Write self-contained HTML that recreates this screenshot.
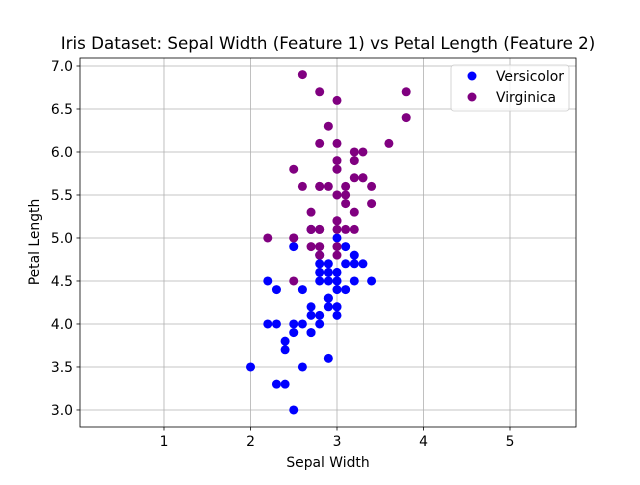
<!DOCTYPE html>
<html><head><meta charset="utf-8"><style>
body{margin:0;background:#fff;font-family:"Liberation Sans","DejaVu Sans",sans-serif;}
svg text{font-family:"DejaVu Sans","Liberation Sans",sans-serif;}
</style></head><body>
<svg id="chart" width="640" height="480" xmlns="http://www.w3.org/2000/svg"></svg>
<script>
const versicolorX=[3.2,3.2,3.1,2.3,2.8,2.8,3.3,2.4,2.9,2.7,2.0,3.0,2.2,2.9,2.9,3.1,3.0,2.7,2.2,2.5,3.2,2.8,2.5,2.8,2.9,3.0,2.8,3.0,2.9,2.6,2.4,2.4,2.7,2.7,3.0,3.4,3.1,2.3,3.0,2.5,2.6,3.0,2.6,2.3,2.7,3.0,2.9,2.9,2.5,2.8];
const versicolorY=[4.7,4.5,4.9,4.0,4.6,4.5,4.7,3.3,4.6,3.9,3.5,4.2,4.0,4.7,3.6,4.4,4.5,4.1,4.5,3.9,4.8,4.0,4.9,4.7,4.3,4.4,4.8,5.0,4.5,3.5,3.8,3.7,3.9,5.1,4.5,4.5,4.7,4.4,4.1,4.0,4.4,4.6,4.0,3.3,4.2,4.2,4.2,4.3,3.0,4.1];
const virginicaX=[3.3,2.7,3.0,2.9,3.0,3.0,2.5,2.9,2.5,3.6,3.2,2.7,3.0,2.5,2.8,3.2,3.0,3.8,2.6,2.2,3.2,2.8,2.8,2.7,3.3,3.2,2.8,3.0,2.8,3.0,2.8,3.8,2.8,2.8,2.6,3.0,3.4,3.1,3.0,3.1,3.1,3.1,2.7,3.2,3.3,3.0,2.5,3.0,3.4,3.0];
const virginicaY=[6.0,5.1,5.9,5.6,5.8,6.6,4.5,6.3,5.8,6.1,5.1,5.3,5.5,5.0,5.1,5.3,5.5,6.7,6.9,5.0,5.7,4.9,6.7,4.9,5.7,6.0,4.8,4.9,5.6,5.8,6.1,6.4,5.6,5.1,5.6,6.1,5.6,5.5,4.8,5.4,5.6,5.1,5.1,5.9,5.7,5.2,5.0,5.2,5.4,5.1];
const xTicks=[1,2,3,4,5];
const yTicks=[3.0,3.5,4.0,4.5,5.0,5.5,6.0,6.5,7.0];

const NS="http://www.w3.org/2000/svg";
const svg=document.getElementById('chart');
const L=80,R=576,T=58,B=427;
const xmin=0.029,xmax=5.763,ymin=2.802,ymax=7.093;
const FS=13.9;
function sx(v){return L+(v-xmin)/(xmax-xmin)*(R-L);}
function sy(v){return B-(v-ymin)/(ymax-ymin)*(B-T);}
function el(tag,attrs,parent){const e=document.createElementNS(NS,tag);for(const k in attrs)e.setAttribute(k,attrs[k]);(parent||svg).appendChild(e);return e;}

const grid=el('g',{});


xTicks.forEach(t=>{
  const x=sx(t);
  el('line',{x1:x,x2:x,y1:T,y2:B,stroke:'#b0b0b0','stroke-width':0.8},grid);
  el('line',{x1:x,x2:x,y1:B,y2:B+3.5,stroke:'#000','stroke-width':0.8});
  const tx=el('text',{x:x,y:B+19,'font-size':FS,'text-anchor':'middle',fill:'#000'});
  tx.textContent=String(t);
  
  
});
yTicks.forEach(t=>{
  const y=sy(t);
  el('line',{x1:L,x2:R,y1:y,y2:y,stroke:'#b0b0b0','stroke-width':0.8},grid);
  el('line',{x1:L-3.5,x2:L,y1:y,y2:y,stroke:'#000','stroke-width':0.8});
  const tx=el('text',{x:L-7,y:y+5,'font-size':FS,'text-anchor':'end',fill:'#000'});
  tx.textContent=t.toFixed(1);
  
  
});

function series(xs,ys,color,name){
  const g=el('g',{});
  
  
  xs.forEach((v,i)=>{
    const c=el('circle',{cx:sx(v),cy:sy(ys[i]),r:4.5,fill:color},g);
    
    
  });
}
series(versicolorX,versicolorY,'#0000ff','versicolor');
series(virginicaX,virginicaY,'#800080','virginica');

const frame=el('rect',{x:L,y:T,width:R-L,height:B-T,fill:'none',stroke:'#000','stroke-width':0.8});



const title=el('text',{x:328,y:49,'font-size':16.7,'text-anchor':'middle',fill:'#000'});
title.textContent='Iris Dataset: Sepal Width (Feature 1) vs Petal Length (Feature 2)';


const xl=el('text',{x:328,y:467,'font-size':FS,'text-anchor':'middle',fill:'#000'});
xl.textContent='Sepal Width';


const yl=el('text',{x:39,y:242,'font-size':FS,'text-anchor':'middle',fill:'#000',transform:'rotate(-90 39 242)'});
yl.textContent='Petal Length';



const lg=el('g',{});


el('rect',{x:451,y:65,width:118,height:46,rx:3,fill:'#fff','fill-opacity':0.8,stroke:'#ccc','stroke-width':0.8},lg);
[['Versicolor','#0000ff',76],['Virginica','#800080',97]].forEach(([n,c,y])=>{
  el('circle',{cx:472,cy:y,r:4.5,fill:c},lg);
  const t=el('text',{x:496,y:y+5,'font-size':FS,fill:'#000'},lg);
  t.textContent=n;
  
  
});
</script>
</body></html>
